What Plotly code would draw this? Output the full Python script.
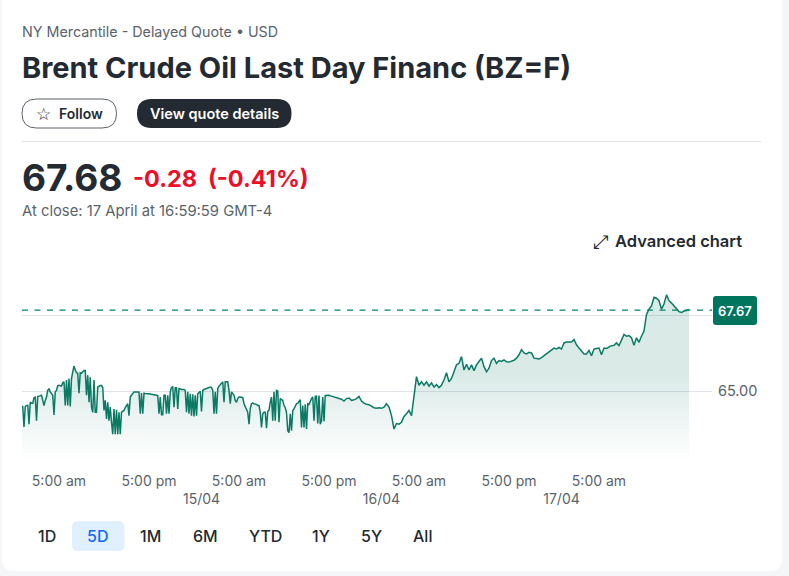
import pandas as pd
import plotly.graph_objects as go

# prices: the choppy stretch is one every 10 minutes from 14/04 00:00,
# the calmer stretch after it one every 20 minutes
prices_choppy = [
    64.50, 64.50, 63.83, 64.50, 64.53, 64.54, 63.92, 64.64, 64.61, 64.61, 64.79, 64.81,
    64.03, 64.83, 64.84, 64.87, 64.87, 64.70, 64.53, 64.70, 64.81, 65.03, 65.09, 64.98,
    64.92, 64.87, 64.22, 64.98, 65.03, 65.19, 65.20, 65.17, 65.17, 65.28, 65.31, 64.53,
    65.37, 64.53, 65.42, 64.50, 65.42, 65.64, 65.83, 65.70, 65.61, 65.59, 64.94, 65.61,
    65.59, 65.64, 65.68, 65.68, 64.87, 65.53, 64.64, 65.46, 64.48, 64.31, 65.37, 64.31,
    64.31, 65.14, 65.17, 65.19, 65.19, 65.12, 64.37, 64.70, 64.09, 64.64, 64.03, 64.48,
    63.98, 63.59, 64.42, 63.59, 64.39, 63.59, 64.31, 63.59, 64.31, 64.34, 64.37, 64.46,
    64.53, 64.59, 64.20, 64.81, 64.87, 64.94, 64.98, 64.98, 64.98, 64.98, 64.98, 64.26,
    64.94, 64.26, 64.94, 64.93, 64.93, 64.92, 64.92, 64.91, 64.90, 64.90, 64.89, 64.88,
    64.87, 64.86, 64.26, 64.81, 64.23, 64.23, 64.87, 64.87, 64.26, 64.87, 64.26, 64.98,
    65.12, 65.14, 64.48, 65.12, 65.12, 64.42, 65.09, 65.06, 65.06, 65.06, 65.06, 65.03,
    64.31, 64.98, 64.26, 64.92, 64.20, 64.90, 64.17, 64.87, 64.20, 64.92, 64.98, 65.00,
    64.34, 65.03, 65.06, 65.08, 65.09, 65.11, 65.12, 65.14, 65.12, 65.03, 64.26, 64.98,
    64.26, 65.09, 65.17, 65.20, 65.26, 65.31, 64.64, 65.31, 65.31, 65.31, 65.03, 64.59,
    64.98, 64.92, 64.87, 64.70, 64.64, 64.76, 64.81, 64.81, 64.81, 64.79, 64.59, 64.48,
    64.42, 64.31, 63.92, 64.42, 64.59, 64.61, 64.59, 64.59, 64.57, 64.53, 64.53, 64.31,
    63.81, 64.26, 64.31, 64.31, 63.79, 64.34, 64.37, 64.64, 64.81, 64.03, 64.98, 64.03,
    65.03, 65.01, 63.98, 64.76, 64.73, 64.70, 64.53, 64.46, 64.31, 63.70, 63.64, 64.26,
    63.70, 64.37, 64.42, 64.53, 64.59, 64.61, 64.68, 64.72, 63.81, 64.53, 63.81, 64.57,
    63.76, 64.59, 64.57, 64.70, 64.76, 64.81, 64.03, 64.83, 64.84, 63.94, 64.86, 63.92,
    64.03, 64.81, 64.01, 64.86, 64.87,
]
prices_calm = [
    64.87, 64.84, 64.82, 64.79, 64.77, 64.74, 64.68, 64.76, 64.78,
    64.70, 64.72, 64.76, 64.83, 64.68, 64.61, 64.57, 64.56, 64.50, 64.46, 64.44, 64.46,
    64.44, 64.48, 64.59, 64.48, 64.20, 63.76, 63.94, 63.92, 63.98, 64.17, 64.26, 64.37,
    64.20, 64.92, 65.48, 65.20, 65.31, 65.20, 65.31, 65.17, 65.28, 65.14, 65.22, 65.12,
    65.20, 65.37, 65.61, 65.31, 65.42, 65.64, 65.87, 65.92, 66.14, 65.70, 65.89, 65.70,
    65.87, 65.68, 65.87, 65.98, 66.09, 65.81, 65.64, 65.76, 66.01, 66.09, 65.92, 66.01,
    65.98, 66.03, 65.97, 65.96,
    66.00, 66.02, 66.09, 66.20, 66.37, 66.26, 66.23, 66.28, 66.26, 66.09, 66.08, 66.06,
    66.11, 66.17, 66.23, 66.31, 66.37, 66.42, 66.39, 66.44, 66.39, 66.59, 66.62, 66.61,
    66.62, 66.70, 66.53, 66.42, 66.34, 66.23, 66.23, 66.34, 66.17, 66.39, 66.41, 66.42,
    66.20, 66.42, 66.41, 66.46, 66.50, 66.51, 66.59, 66.50, 66.70, 66.87, 66.81, 66.83,
    66.76, 66.51, 66.76, 66.61, 66.81, 66.98, 67.53, 67.70, 67.81, 68.09, 68.06, 67.98,
    67.70, 67.87, 68.17, 67.98, 67.90, 67.81, 67.72, 67.62, 67.59, 67.64, 67.66, 67.69,
]
times_choppy = pd.date_range('2025-04-14 00:00', periods=len(prices_choppy), freq='10min')
times_calm = pd.date_range(times_choppy[-1] + pd.Timedelta(minutes=20), periods=len(prices_calm), freq='20min')

hour_ticks = ['2025-04-14 05:00', '2025-04-14 17:00', '2025-04-15 05:00', '2025-04-15 17:00',
              '2025-04-16 05:00', '2025-04-16 17:00', '2025-04-17 05:00']
hour_labels = ['5:00 am', '5:00 pm', '5:00 am', '5:00 pm', '5:00 am', '5:00 pm', '5:00 am']
day_ticks = ['2025-04-15 00:00', '2025-04-16 00:00', '2025-04-17 00:00']
day_labels = ['15/04', '16/04', '17/04']
last_price = 67.67
price_ticks = [65, 67.5]
price_labels = ['65.00', '']
range_buttons = ['1D', '5D', '1M', '6M', 'YTD', '1Y', '5Y', 'All']
range_centres = [47, 97.5, 150, 205, 265.5, 321, 371.5, 422.5]

FONT = 'Inter'
INK = '#232a31'
MUTED = '#5b636a'
GREEN = '#0b7a65'

# plot area in page pixels
LEFT, RIGHT, TOP, BOTTOM = 22, 712, 280, 460


def px(x):
    return (x - LEFT) / (RIGHT - LEFT)


def py(y):
    return (BOTTOM - y) / (BOTTOM - TOP)


def rounded(x0, y0, x1, y1, r, **kw):
    # rounded box given in page pixels, drawn in paper coordinates
    rx, ry = r / (RIGHT - LEFT), r / (BOTTOM - TOP)
    l, rr, b, t = px(x0), px(x1), py(y1), py(y0)
    path = (f'M {l + rx} {t} L {rr - rx} {t} Q {rr} {t} {rr} {t - ry} L {rr} {b + ry} '
            f'Q {rr} {b} {rr - rx} {b} L {l + rx} {b} Q {l} {b} {l} {b + ry} '
            f'L {l} {t - ry} Q {l} {t} {l + rx} {t} Z')
    return dict(type='path', xref='paper', yref='paper', path=path, **kw)


def label(text, x, y, size=14, color=INK, anchor='left', weight=400, family=FONT):
    return dict(text=text, xref='paper', yref='paper', x=px(x), y=py(y), xanchor=anchor,
                yanchor='middle', showarrow=False, borderpad=0,
                font=dict(family=family, size=size, color=color, weight=weight))


fig = go.Figure(go.Scatter(
    x=list(times_choppy) + list(times_calm), y=prices_choppy + prices_calm, mode='lines',
    line=dict(color=GREEN, width=1.5),
    fill='tozeroy',
    fillgradient=dict(type='vertical', start=62.73, stop=65.6,
                      colorscale=[[0, 'rgba(0,116,94,0)'], [1, 'rgba(0,116,94,0.15)']]),
    hoverinfo='skip',
))

shapes = [
    rounded(2, -30, 782, 571, 12, fillcolor='white', line_width=0, layer='below'),
    rounded(22, 99, 116.5, 128, 14.5, fillcolor='white', line=dict(color='#5b636a', width=1)),
    rounded(137, 99, 291.5, 128, 14.5, fillcolor=INK, line_width=0),
    dict(type='line', xref='paper', yref='paper', x0=px(22), x1=px(761), y0=py(141.5), y1=py(141.5),
         line=dict(color='#e0e4e9', width=1)),
    rounded(72, 521, 124.5, 551, 6, fillcolor='#e0f0ff', line_width=0),
    rounded(713, 296, 757, 325, 3, fillcolor='#00755e', line_width=0),
    dict(type='line', xref='paper', yref='y', x0=0, x1=1, y0=last_price, y1=last_price,
         line=dict(color='#00856b', width=1.2, dash='6px,6.5px')),
]

annotations = [
    label('NY Mercantile - Delayed Quote • USD', 21, 31, size=14.3, color=MUTED),
    label('Brent Crude Oil Last Day Financ (BZ=F)', 21, 67, size=29, weight=700),
    label('☆', 35, 113.5, size=17, family='DejaVu Sans'),
    label('Follow', 57.5, 113.5, size=14, weight=600),
    label('View quote details', 149, 113.5, size=14.5, color='white', weight=600),
    label('67.68', 21, 177, size=37, weight=700),
    label('-0.28', 132, 178, size=23.5, color='#eb0f29', weight=700),
    label('(-0.41%)', 207, 178, size=23.5, color='#eb0f29', weight=700),
    label('At close: 17 April at 16:59:59 GMT-4', 21, 211, size=14.8, color=MUTED),
    label('⤢', 592, 241, size=19, family='DejaVu Sans'),
    label('Advanced chart', 614, 241, size=16.5, weight=600),
    label(f'{last_price:.2f}', 735, 310.5, size=13, color='white', anchor='center', weight=600),
]
for name, centre in zip(range_buttons, range_centres):
    colour = '#0f69ff' if name == '5D' else INK
    annotations.append(label(name, centre, 536, size=16, color=colour, anchor='center', weight=500))

fig.update_layout(
    width=789, height=576,
    margin=dict(l=LEFT, r=789 - RIGHT, t=TOP, b=576 - BOTTOM, pad=0),
    paper_bgcolor='#f5f6f7',
    plot_bgcolor='rgba(0,0,0,0)',
    showlegend=False,
    shapes=shapes,
    annotations=annotations,
    font=dict(family=FONT, color=MUTED, size=14),
    xaxis=dict(
        range=['2025-04-14 00:04', '2025-04-17 20:04'],
        tickmode='array',
        tickvals=hour_ticks + day_ticks,
        ticktext=hour_labels + [f' <br>{d}' for d in day_labels],
        showgrid=False, zeroline=False, showline=False,
        ticks='outside', ticklen=8, tickcolor='rgba(0,0,0,0)',
        tickangle=0,
    ),
    yaxis=dict(
        range=[62.74, 68.66],
        side='right',
        tickmode='array',
        tickvals=price_ticks,
        ticktext=price_labels,
        tickfont=dict(size=14.5),
        showgrid=True, gridcolor='#e0e4e9', gridwidth=1,
        zeroline=False, showline=False,
        ticks='outside', ticklen=2, tickcolor='rgba(0,0,0,0)',
    ),
)

fig.write_html('out.html', config=dict(displayModeBar=False),
               post_script="document.body.style.margin='0';document.body.style.overflow='hidden';")
